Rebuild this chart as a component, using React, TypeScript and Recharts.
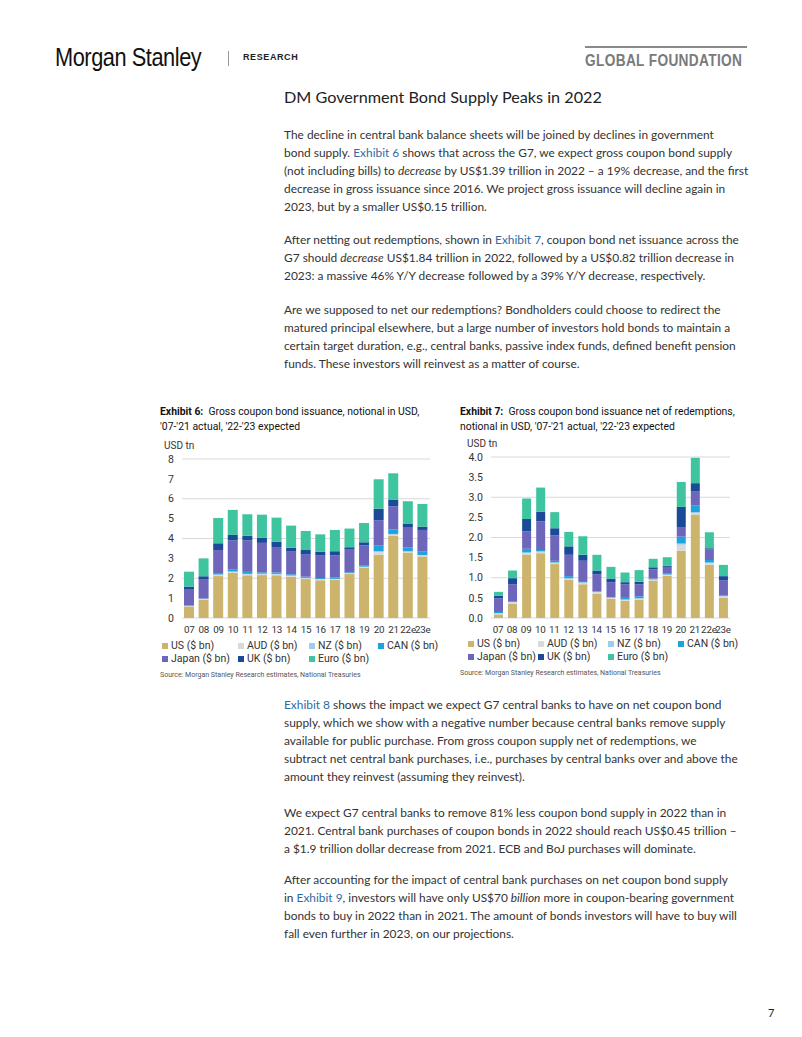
import { BarChart, Bar, XAxis, YAxis, CartesianGrid } from 'recharts';

const YEARS = ['07', '08', '09', '10', '11', '12', '13', '14', '15', '16', '17', '18', '19', '20', '21', '22e', '23e'];

// Exhibit 6: gross coupon issuance, USD tn
const US_GROSS = [0.58, 0.92, 2.11, 2.27, 2.15, 2.16, 2.15, 2.08, 1.96, 1.9, 1.91, 2.21, 2.52, 3.19, 4.13, 3.29, 3.1];
const AUD_GROSS = [0.02, 0.03, 0.05, 0.04, 0.04, 0.04, 0.04, 0.04, 0.04, 0.04, 0.04, 0.03, 0.04, 0.12, 0.06, 0.04, 0.04];
const NZ_GROSS = [0.01, 0.01, 0.03, 0.03, 0.03, 0.03, 0.03, 0.02, 0.02, 0.02, 0.02, 0.02, 0.02, 0.05, 0.04, 0.03, 0.03];
const CAN_GROSS = [0.02, 0.02, 0.07, 0.09, 0.1, 0.07, 0.08, 0.06, 0.06, 0.05, 0.08, 0.04, 0.05, 0.28, 0.22, 0.2, 0.19];
const JAPAN_GROSS = [0.83, 0.95, 1.16, 1.47, 1.58, 1.48, 1.27, 1.14, 1.11, 1.13, 1.1, 1.14, 1.03, 1.28, 1.17, 1.02, 1.07];
const UK_GROSS = [0.12, 0.17, 0.34, 0.28, 0.24, 0.25, 0.26, 0.2, 0.23, 0.2, 0.21, 0.12, 0.15, 0.58, 0.32, 0.15, 0.17];
const EURO_GROSS = [0.75, 0.9, 1.27, 1.26, 1.08, 1.17, 1.22, 1.11, 0.96, 0.87, 1.07, 0.94, 0.97, 1.48, 1.34, 1.14, 1.14];

// Exhibit 7: net of redemptions, USD tn
const US_NET = [0.09, 0.35, 1.58, 1.61, 1.34, 0.95, 0.84, 0.6, 0.48, 0.43, 0.45, 0.93, 1.05, 1.67, 2.57, 1.32, 0.5];
const AUD_NET = [0.02, 0.04, 0.03, 0.03, 0.02, 0.02, 0.03, 0.04, 0.02, 0.02, 0.03, 0.02, 0.02, 0.15, 0.04, 0.04, 0.03];
const NZ_NET = [0.01, 0.01, 0.02, 0.02, 0.02, 0.02, 0.02, 0.01, 0.01, 0.01, 0.01, 0.01, 0.01, 0.03, 0.02, 0.02, 0.02];
const CAN_NET = [0.03, 0.02, 0.09, 0.03, 0.04, 0.05, 0.03, 0.01, 0.01, 0.04, 0.05, 0.02, 0.02, 0.17, 0.17, 0.06, 0.02];
const JAPAN_NET = [0.34, 0.42, 0.43, 0.71, 0.63, 0.53, 0.5, 0.42, 0.37, 0.34, 0.3, 0.23, 0.17, 0.24, 0.34, 0.27, 0.37];
const UK_NET = [0.06, 0.15, 0.31, 0.24, 0.18, 0.21, 0.15, 0.1, 0.09, 0.05, 0.06, 0.05, 0.03, 0.5, 0.21, 0.02, 0.1];
const EURO_NET = [0.1, 0.19, 0.51, 0.6, 0.4, 0.36, 0.46, 0.39, 0.29, 0.24, 0.29, 0.21, 0.21, 0.62, 0.63, 0.4, 0.28];

const TICKS_GROSS = [0, 1, 2, 3, 4, 5, 6, 7, 8];
const TICKS_NET = [0, 0.5, 1, 1.5, 2, 2.5, 3, 3.5, 4];

const SERIES = [
  { key: 'us', name: 'US ($ bn)', color: '#cdb46c' },
  { key: 'aud', name: 'AUD ($ bn)', color: '#d9d9d9' },
  { key: 'nz', name: 'NZ ($ bn)', color: '#9fcbee' },
  { key: 'can', name: 'CAN ($ bn)', color: '#1fa3dd' },
  { key: 'japan', name: 'Japan ($ bn)', color: '#6d66bb' },
  { key: 'uk', name: 'UK ($ bn)', color: '#1b4a98' },
  { key: 'euro', name: 'Euro ($ bn)', color: '#3fc4a0' },
];

const buildRows = (us: number[], aud: number[], nz: number[], can: number[], japan: number[], uk: number[], euro: number[]) =>
  YEARS.map((year, i) => ({ year, us: us[i], aud: aud[i], nz: nz[i], can: can[i], japan: japan[i], uk: uk[i], euro: euro[i] }));

const grossRows = buildRows(US_GROSS, AUD_GROSS, NZ_GROSS, CAN_GROSS, JAPAN_GROSS, UK_GROSS, EURO_GROSS);
const netRows = buildRows(US_NET, AUD_NET, NZ_NET, CAN_NET, JAPAN_NET, UK_NET, EURO_NET);

const CHART_FONT = 'Roboto, "Liberation Sans", Arial, sans-serif';
const BODY_FONT = 'Lato, "Open Sans", sans-serif';
const LINK = '#2f6aa3';

function Legend({ left, top, cols }: { left: number; top: number; cols: string }) {
  return (
    <div style={{ position: 'absolute', left, top, display: 'grid', gridTemplateColumns: cols, fontFamily: CHART_FONT, fontSize: 10.5, color: '#333', lineHeight: '13px' }}>
      {SERIES.map((s) => (
        <div key={s.key} style={{ display: 'flex', alignItems: 'center', whiteSpace: 'nowrap' }}>
          <span style={{ width: 6, height: 6, background: s.color, marginRight: 3, display: 'inline-block' }} />
          {s.name}
        </div>
      ))}
    </div>
  );
}

function Exhibit(props: {
  left: number; top: number; width: number; margin: any; yWidth: number; rows: any[];
  ticks: number[]; max: number; fmt: (v: number) => string; barSize: number;
}) {
  const { left, top, width, margin, yWidth, rows, ticks, max, fmt, barSize } = props;
  return (
    <div style={{ position: 'absolute', left, top }}>
      <BarChart width={width} height={195} data={rows} margin={margin} barSize={barSize}>
        <CartesianGrid vertical={false} stroke="#d9d9d9" />
        <XAxis dataKey="year" interval={0} axisLine={false} tickLine={false} tick={{ fill: '#333', fontSize: 9.8, fontFamily: CHART_FONT, letterSpacing: -0.2 }} height={20} />
        <YAxis domain={[0, max]} ticks={ticks} tickFormatter={fmt} axisLine={false} tickLine={false} width={yWidth} tick={{ fill: '#333', fontSize: 10.5, fontFamily: CHART_FONT }} />
        {SERIES.map((s) => (
          <Bar key={s.key} dataKey={s.key} name={s.name} stackId="a" fill={s.color} isAnimationActive={false} />
        ))}
      </BarChart>
    </div>
  );
}

const P1 = [
  <>The decline in central bank balance sheets will be joined by declines in government</>,
  <>bond supply. <span style={{ color: LINK }}>Exhibit 6</span> shows that across the G7, we expect gross coupon bond supply</>,
  <>(not including bills) to <i>decrease</i> by US$1.39 trillion in 2022 – a 19% decrease, and the first</>,
  <>decrease in gross issuance since 2016. We project gross issuance will decline again in</>,
  <>2023, but by a smaller US$0.15 trillion.</>,
];
const P2 = [
  <>After netting out redemptions, shown in <span style={{ color: LINK }}>Exhibit 7</span>, coupon bond net issuance across the</>,
  <>G7 should <i>decrease</i> US$1.84 trillion in 2022, followed by a US$0.82 trillion decrease in</>,
  <>2023: a massive 46% Y/Y decrease followed by a 39% Y/Y decrease, respectively.</>,
];
const P3 = [
  <>Are we supposed to net our redemptions? Bondholders could choose to redirect the</>,
  <>matured principal elsewhere, but a large number of investors hold bonds to maintain a</>,
  <>certain target duration, e.g., central banks, passive index funds, defined benefit pension</>,
  <>funds. These investors will reinvest as a matter of course.</>,
];
const P4 = [
  <><span style={{ color: LINK }}>Exhibit 8</span> shows the impact we expect G7 central banks to have on net coupon bond</>,
  <>supply, which we show with a negative number because central banks remove supply</>,
  <>available for public purchase. From gross coupon supply net of redemptions, we</>,
  <>subtract net central bank purchases, i.e., purchases by central banks over and above the</>,
  <>amount they reinvest (assuming they reinvest).</>,
];
const P5 = [
  <>We expect G7 central banks to remove 81% less coupon bond supply in 2022 than in</>,
  <>2021. Central bank purchases of coupon bonds in 2022 should reach US$0.45 trillion –</>,
  <>a $1.9 trillion dollar decrease from 2021. ECB and BoJ purchases will dominate.</>,
];
const P6 = [
  <>After accounting for the impact of central bank purchases on net coupon bond supply</>,
  <>in <span style={{ color: LINK }}>Exhibit 9</span>, investors will have only US$70 <i>billion</i> more in coupon-bearing government</>,
  <>bonds to buy in 2022 than in 2021. The amount of bonds investors will have to buy will</>,
  <>fall even further in 2023, on our projections.</>,
];

function Para({ top, lines }: { top: number; lines: any[] }) {
  return (
    <div style={{ position: 'absolute', left: 284, top, fontFamily: BODY_FONT, fontSize: 11.9, lineHeight: '18px', color: '#333', whiteSpace: 'nowrap' }}>
      {lines.map((l, i) => <div key={i}>{l}</div>)}
    </div>
  );
}

const titleStyle = { position: 'absolute' as const, fontFamily: CHART_FONT, fontSize: 10.4, lineHeight: '15px', color: '#111', whiteSpace: 'nowrap' as const };
const sourceStyle = { position: 'absolute' as const, fontFamily: CHART_FONT, fontSize: 7, color: '#555', whiteSpace: 'nowrap' as const };
const unitStyle = { position: 'absolute' as const, fontFamily: CHART_FONT, fontSize: 10, color: '#333' };

export default function App() {
  return (
    <div style={{ position: 'absolute', left: 0, top: 0, width: 802, height: 1037, background: '#fff', overflow: 'hidden' }}>
      {/* header */}
      <div style={{ position: 'absolute', left: 55, top: 43, fontFamily: '"Liberation Sans", Arial, sans-serif', fontSize: 25, color: '#111', whiteSpace: 'nowrap', transform: 'scaleX(0.87)', transformOrigin: 'left top', letterSpacing: -0.5 }}>Morgan Stanley</div>
      <div style={{ position: 'absolute', left: 228, top: 51, width: 1, height: 15, background: '#999' }} />
      <div style={{ position: 'absolute', left: 243, top: 52, fontFamily: '"Liberation Sans", Arial, sans-serif', fontSize: 9, fontWeight: 700, letterSpacing: 0.6, color: '#222' }}>RESEARCH</div>
      <div style={{ position: 'absolute', left: 585, top: 46, width: 162, height: 2, background: '#8a8a8a' }} />
      <div style={{ position: 'absolute', left: 585, top: 52, fontFamily: '"Liberation Sans", Arial, sans-serif', fontSize: 16, fontWeight: 700, letterSpacing: 0.4, color: '#7a7a7a', whiteSpace: 'nowrap', transform: 'scaleX(0.855)', transformOrigin: 'left top' }}>GLOBAL FOUNDATION</div>

      <div style={{ position: 'absolute', left: 284, top: 87, fontFamily: BODY_FONT, fontSize: 16.2, lineHeight: '20px', color: '#222', whiteSpace: 'nowrap' }}>DM Government Bond Supply Peaks in 2022</div>

      <Para top={126} lines={P1} />
      <Para top={231} lines={P2} />
      <Para top={301} lines={P3} />

      {/* Exhibit 6 */}
      <div style={{ ...titleStyle, left: 160, top: 404 }}>
        <b>Exhibit 6:</b>&nbsp; Gross coupon bond issuance, notional in USD,<br />'07-'21 actual, '22-'23 expected
      </div>
      <div style={{ ...unitStyle, left: 164, top: 440 }}>USD tn</div>
      <Exhibit left={150} top={450} width={290} margin={{ top: 9, right: 10, bottom: 7, left: 8 }} yWidth={24}
        rows={grossRows} ticks={TICKS_GROSS} max={8} fmt={(v) => String(v)} barSize={10} />
      <Legend left={162} top={639} cols="76px 71px 69px auto" />
      <div style={{ ...sourceStyle, left: 160, top: 671 }}>Source: Morgan Stanley Research estimates, National Treasuries</div>

      {/* Exhibit 7 */}
      <div style={{ ...titleStyle, left: 460, top: 404 }}>
        <b>Exhibit 7:</b>&nbsp; Gross coupon bond issuance net of redemptions,<br />notional in USD, '07-'21 actual, '22-'23 expected
      </div>
      <div style={{ ...unitStyle, left: 467, top: 438 }}>USD tn</div>
      <Exhibit left={455} top={450} width={290} margin={{ top: 7, right: 15, bottom: 7, left: 8 }} yWidth={28}
        rows={netRows} ticks={TICKS_NET} max={4} fmt={(v) => v.toFixed(1)} barSize={9} />
      <Legend left={468} top={637} cols="70px 70px 70px auto" />
      <div style={{ ...sourceStyle, left: 460, top: 669 }}>Source: Morgan Stanley Research estimates, National Treasuries</div>

      <Para top={696} lines={P4} />
      <Para top={804} lines={P5} />
      <Para top={871} lines={P6} />

      <div style={{ position: 'absolute', left: 768, top: 1006, fontFamily: BODY_FONT, fontSize: 11, color: '#222' }}>7</div>
    </div>
  );
}
